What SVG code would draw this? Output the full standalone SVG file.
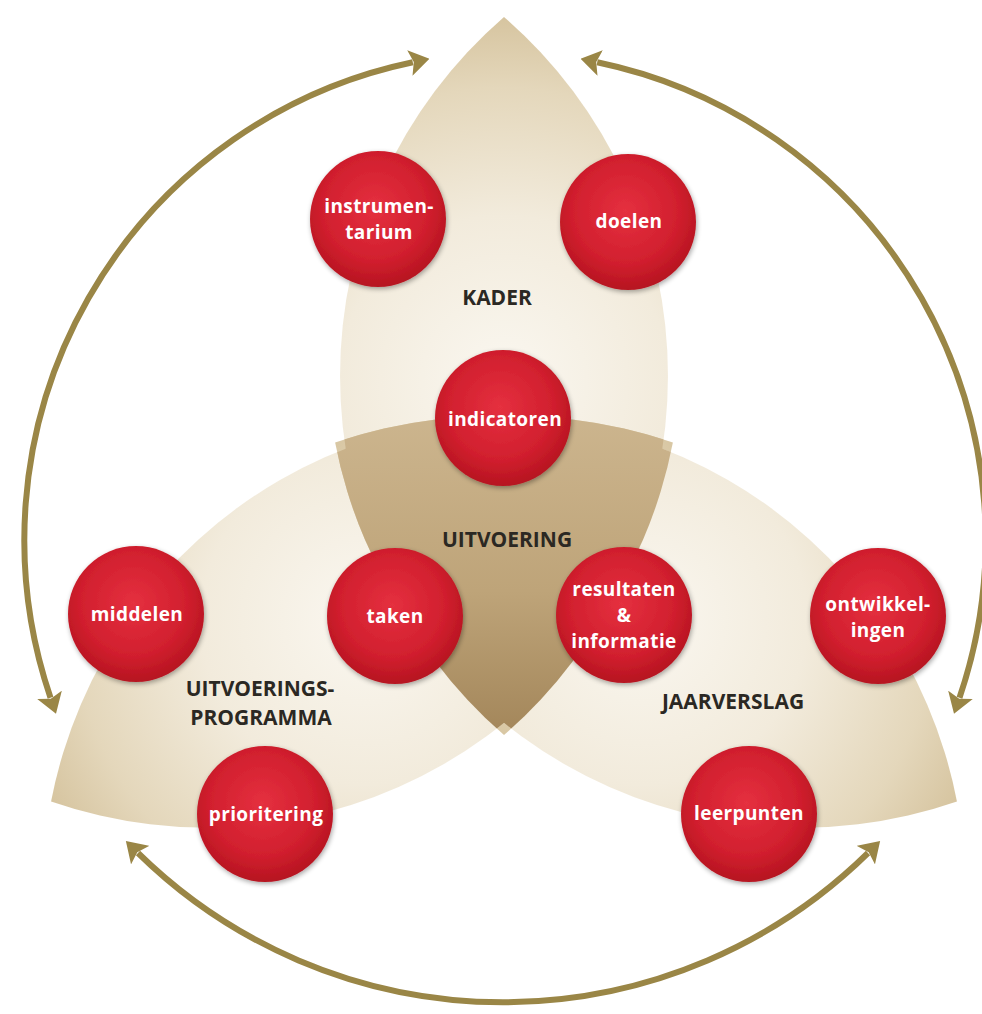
<svg xmlns="http://www.w3.org/2000/svg" xmlns:xlink="http://www.w3.org/1999/xlink" width="982" height="1014" viewBox="0 0 982 1014">
<style>
.lbl{font-family:"Open Sans","Liberation Sans",sans-serif;font-weight:700;font-size:19px;letter-spacing:0.4px;fill:#ffffff;text-anchor:middle}
.reg{font-family:"Open Sans","Liberation Sans",sans-serif;font-weight:700;font-size:21px;fill:#2b2823;text-anchor:middle}
.arc{fill:none;stroke:#9a8646;stroke-width:6;marker-start:url(#ah);marker-end:url(#ah)}
.node{fill:url(#red);filter:url(#sh)}
</style>
<defs>
<path id="petal" d="M504,17 A475,475 0 0 0 504,735 A475,475 0 0 0 504,17 Z"/>
<radialGradient id="pg" gradientUnits="userSpaceOnUse" cx="504" cy="380" r="365">
<stop offset="0" stop-color="#faf7f0"/>
<stop offset="0.45" stop-color="#f2ebdc"/>
<stop offset="0.8" stop-color="#e4d7bb"/>
<stop offset="1" stop-color="#d6c49f"/>
</radialGradient>
<linearGradient id="dark" gradientUnits="userSpaceOnUse" x1="0" y1="415" x2="0" y2="735">
<stop offset="0" stop-color="#ccb58e"/>
<stop offset="0.55" stop-color="#bea479"/>
<stop offset="1" stop-color="#a3865a"/>
</linearGradient>
<radialGradient id="red" cx="0.48" cy="0.42" r="0.6">
<stop offset="0" stop-color="#e5303f"/>
<stop offset="0.65" stop-color="#d11f2e"/>
<stop offset="1" stop-color="#b3131f"/>
</radialGradient>
<filter id="sh" x="-20%" y="-20%" width="140%" height="140%">
<feGaussianBlur in="SourceAlpha" stdDeviation="2.5"/>
<feOffset dx="1" dy="2" result="b"/>
<feComponentTransfer><feFuncA type="linear" slope="0.35"/></feComponentTransfer>
<feMerge><feMergeNode/><feMergeNode in="SourceGraphic"/></feMerge>
</filter>
<clipPath id="cT"><use xlink:href="#petal"/></clipPath>
<clipPath id="cL"><use xlink:href="#petal" transform="rotate(-120 504 540)"/></clipPath>
<clipPath id="cR"><use xlink:href="#petal" transform="rotate(120 504 540)"/></clipPath>
<marker id="ah" viewBox="0 0 20 26" refX="3" refY="13" markerUnits="userSpaceOnUse" markerWidth="20" markerHeight="26" orient="auto-start-reverse">
<path d="M0,0 L20,13 L0,26 L4,13 Z" fill="#9a8646"/>
</marker>
</defs>
<rect width="982" height="1014" fill="#ffffff"/>

<g id="petal-kader">
<use xlink:href="#petal" fill="url(#pg)"/>
</g>
<g id="petal-uitvoeringsprogramma">
<use xlink:href="#petal" fill="url(#pg)" transform="rotate(-120 504 540)"/>
</g>
<g id="petal-jaarverslag">
<use xlink:href="#petal" fill="url(#pg)" transform="rotate(120 504 540)"/>
</g>

<g id="overlap">
<g clip-path="url(#cT)"><g clip-path="url(#cL)"><rect x="300" y="380" width="400" height="380" fill="url(#dark)"/></g></g>
<g clip-path="url(#cT)"><g clip-path="url(#cR)"><rect x="300" y="380" width="400" height="380" fill="url(#dark)"/></g></g>
<g clip-path="url(#cL)"><g clip-path="url(#cR)"><rect x="300" y="380" width="400" height="380" fill="url(#dark)"/></g></g>
</g>

<g id="connectors">
<path class="arc" d="M50.5,697.7 A488,488 0 0 1 412.8,62.3"/>
<path class="arc" d="M597.2,62.3 A488,488 0 0 1 959.5,697.7"/>
<path class="arc" d="M868,853 A521,521 0 0 1 138,853"/>
</g>

<g id="label-kader"><text class="reg" x="497" y="305">KADER</text></g>
<g id="label-uitvoering"><text class="reg" x="507" y="547">UITVOERING</text></g>
<g id="label-uitvoeringsprogramma"><text class="reg" x="260" y="696">UITVOERINGS-</text><text class="reg" x="261" y="725">PROGRAMMA</text></g>
<g id="label-jaarverslag"><text class="reg" x="733" y="709">JAARVERSLAG</text></g>

<g id="instrumentarium"><circle class="node" cx="378" cy="219" r="68"/><text class="lbl" x="379" y="213">instrumen-</text><text class="lbl" x="379" y="239">tarium</text></g>
<g id="doelen"><circle class="node" cx="628" cy="222" r="68"/><text class="lbl" x="629" y="228">doelen</text></g>
<g id="indicatoren"><circle class="node" cx="503" cy="418" r="68"/><text class="lbl" x="505" y="426">indicatoren</text></g>
<g id="middelen"><circle class="node" cx="136" cy="614" r="68"/><text class="lbl" x="137" y="621">middelen</text></g>
<g id="taken"><circle class="node" cx="395" cy="616" r="68"/><text class="lbl" x="395" y="623">taken</text></g>
<g id="resultaten"><circle class="node" cx="624" cy="615" r="68"/><text class="lbl" x="624" y="596">resultaten</text><text class="lbl" x="624" y="622">&amp;</text><text class="lbl" x="624" y="648">informatie</text></g>
<g id="ontwikkelingen"><circle class="node" cx="878" cy="616" r="68"/><text class="lbl" x="878" y="611">ontwikkel-</text><text class="lbl" x="878" y="637">ingen</text></g>
<g id="prioritering"><circle class="node" cx="265" cy="814" r="68"/><text class="lbl" x="266" y="821">prioritering</text></g>
<g id="leerpunten"><circle class="node" cx="749" cy="814" r="68"/><text class="lbl" x="749" y="820">leerpunten</text></g>
</svg>
